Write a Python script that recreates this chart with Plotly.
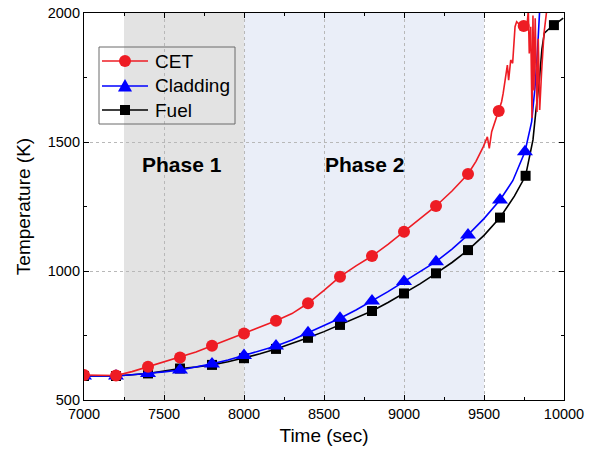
import plotly.graph_objects as go

# ---- data ----
cet_t = [7000, 7100, 7200, 7300, 7400, 7500, 7600, 7700, 7800, 7900, 8000, 8100, 8200, 8300,
         8400, 8500, 8600, 8700, 8800, 8900, 9000, 9100, 9200, 9300, 9400, 9450, 9496, 9521,
         9533, 9548, 9592, 9610, 9620, 9638, 9646, 9654, 9667, 9679, 9694, 9704, 9725, 9748,
         9767, 9777, 9783, 9792, 9800, 9806, 9812, 9820, 9831, 9839, 9848, 9860, 9875, 9892, 9900]
cet_T = [597, 596, 595, 610, 629, 646, 665, 686, 710, 734, 758, 780, 807, 835,
         875, 925, 978, 1020, 1058, 1103, 1152, 1200, 1252, 1310, 1376, 1425, 1482, 1520,
         1475, 1540, 1620, 1656, 1689, 1753, 1798, 1740, 1818, 1805, 1947, 1966, 1953, 1950,
         1940, 2010, 1843, 1947, 1593, 1990, 1700, 1980, 1616, 1900, 1624, 1772, 1921, 2010, 2060]
cet_mt = [7000, 7200, 7400, 7600, 7800, 8000, 8200, 8400, 8600, 8800, 9000, 9200, 9400, 9592, 9748]
cet_mT = [597, 595, 629, 665, 710, 758, 807, 875, 978, 1058, 1152, 1252, 1376, 1620, 1950]

clad_t = [7000, 7100, 7200, 7300, 7400, 7500, 7600, 7700, 7800, 7900, 8000, 8100, 8200, 8300,
          8400, 8500, 8600, 8700, 8800, 8900, 9000, 9100, 9200, 9300, 9400, 9500, 9600, 9680,
          9756, 9798, 9819, 9835, 9852]
clad_T = [593, 593, 593, 598, 603, 609, 616, 627, 640, 655, 672, 690, 709, 733,
          761, 788, 817, 849, 884, 920, 959, 996, 1036, 1085, 1140, 1203, 1275, 1350,
          1462, 1579, 1714, 1860, 2060]
clad_mt = [7000, 7200, 7400, 7600, 7800, 8000, 8200, 8400, 8600, 8800, 9000, 9200, 9400, 9600, 9756]
clad_mT = [593, 593, 603, 616, 640, 672, 709, 761, 817, 884, 959, 1036, 1140, 1275, 1462]

fuel_t = [7000, 7100, 7200, 7300, 7400, 7500, 7600, 7700, 7800, 7900, 8000, 8100, 8200, 8300,
          8400, 8500, 8600, 8700, 8800, 8900, 9000, 9100, 9200, 9300, 9400, 9500, 9600, 9690,
          9760, 9787, 9806, 9825, 9846, 9862, 9877, 9905, 9937, 9995]
fuel_T = [593, 593, 593, 598, 603, 612, 622, 628, 636, 648, 662, 679, 698, 718,
          741, 765, 791, 817, 845, 878, 913, 950, 991, 1033, 1081, 1138, 1207, 1290,
          1369, 1443, 1508, 1624, 1740, 1860, 1922, 1938, 1953, 1980]
fuel_mt = [7000, 7200, 7400, 7600, 7800, 8000, 8200, 8400, 8600, 8800, 9000, 9200, 9400, 9600, 9760, 9937]
fuel_mT = [593, 593, 603, 622, 636, 662, 698, 741, 791, 845, 913, 991, 1081, 1207, 1369, 1953]

series_names = ["CET", "Cladding", "Fuel"]
phase_labels = ["Phase 1", "Phase 2"]
phase1 = [7250, 8000]
phase2 = [8000, 9500]

RED = "#ee1c24"
BLUE = "#0000ff"
BLACK = "#000000"
FONT = "Liberation Sans, Arial, sans-serif"

W, H = 600, 459
ML, MR, MT, MB = 84, 36, 13, 59
PW, PH = W - ML - MR, H - MT - MB


def px2x(px):
    return (px - ML) / PW


def px2y(py):
    return 1 - (py - MT) / PH


fig = go.Figure()

specs = [
    (series_names[0], cet_t, cet_T, cet_mt, cet_mT, RED, "circle", 12),
    (series_names[1], clad_t, clad_T, clad_mt, clad_mT, BLUE, "triangle-up", 14),
    (series_names[2], fuel_t, fuel_T, fuel_mt, fuel_mT, BLACK, "square", 10),
]
for name, t, T, mt, mT, col, sym, sz in reversed(specs):
    fig.add_trace(go.Scatter(x=t, y=T, mode="lines", line=dict(color=col, width=1.6),
                             showlegend=False, hoverinfo="skip", name=name))
    fig.add_trace(go.Scatter(x=mt, y=mT, mode="markers", name=name,
                             marker=dict(color=col, symbol=sym, size=sz, line=dict(width=0)),
                             showlegend=False))

# phase shading
fig.add_shape(type="rect", xref="x", yref="paper", x0=phase1[0], x1=phase1[1], y0=0, y1=1,
              fillcolor="#e3e3e3", line=dict(width=0), layer="below")
fig.add_shape(type="rect", xref="x", yref="paper", x0=phase2[0], x1=phase2[1], y0=0, y1=1,
              fillcolor="#eaeef8", line=dict(width=0), layer="below")

fig.add_annotation(x=7612, y=1411, text="<b>" + phase_labels[0] + "</b>", showarrow=False,
                   font=dict(family=FONT, size=21, color="black"))
fig.add_annotation(x=8752, y=1411, text="<b>" + phase_labels[1] + "</b>", showarrow=False,
                   font=dict(family=FONT, size=21, color="black"))

# ---- manual legend (layout decoration) ----
fig.add_shape(type="rect", xref="paper", yref="paper",
              x0=px2x(99), x1=px2x(235), y0=px2y(124), y1=px2y(47),
              line=dict(color="#6a6a6a", width=1), fillcolor="rgba(0,0,0,0)", layer="above")
row_y = [61, 86, 110]
marker_paths = {
    "circle": None,
    "triangle-up": "M -7,-5.5 L 7,-5.5 L 0,7 Z",
    "square": "M -5,-5 L 5,-5 L 5,5 L -5,5 Z",
}
for (name, t, T, mt, mT, col, sym, sz), ry in zip(specs, row_y):
    yy = px2y(ry)
    fig.add_shape(type="line", xref="paper", yref="paper", x0=px2x(102), x1=px2x(148),
                  y0=yy, y1=yy, line=dict(color=col, width=1.6), layer="above")
    if sym == "circle":
        fig.add_shape(type="circle", xref="paper", yref="paper", xsizemode="pixel",
                      ysizemode="pixel", xanchor=px2x(125), yanchor=yy,
                      x0=-6, x1=6, y0=-6, y1=6, fillcolor=col, line=dict(width=0), layer="above")
    else:
        fig.add_shape(type="path", xref="paper", yref="paper", xsizemode="pixel",
                      ysizemode="pixel", xanchor=px2x(125), yanchor=yy,
                      path=marker_paths[sym], fillcolor=col, line=dict(width=0), layer="above")
    fig.add_annotation(xref="paper", yref="paper", x=px2x(153), y=yy, text=name,
                       showarrow=False, xanchor="left", yanchor="middle",
                       font=dict(family=FONT, size=19, color="black"))

axis_common = dict(
    showline=True, linecolor="black", linewidth=1.2, mirror="ticks",
    ticks="inside", ticklen=5, tickcolor="black",
    showgrid=True, gridcolor="#b8b8b8", griddash="dot", gridwidth=1,
    zeroline=False, automargin=False,
    tickfont=dict(family=FONT, size=14.5, color="black"),
)

fig.update_xaxes(range=[7000, 10000], dtick=500, tick0=7000, tickformat="d", **axis_common,
                 minor=dict(ticks="inside", ticklen=3, tickcolor="black", showgrid=False, dtick=250),
                 title=dict(text="Time (sec)", font=dict(family=FONT, size=19, color="black"), standoff=8))
fig.update_yaxes(range=[500, 2000], dtick=500, tick0=500, tickformat="d", **axis_common,
                 minor=dict(ticks="inside", ticklen=3, tickcolor="black", showgrid=False, dtick=250),
                 title=dict(text="Temperature (K)", font=dict(family=FONT, size=19, color="black"), standoff=12))

fig.update_layout(
    width=W, height=H,
    margin=dict(l=ML, r=MR, t=MT, b=MB),
    paper_bgcolor="white", plot_bgcolor="white",
    font=dict(family=FONT, color="black"),
    showlegend=False,
)

fig.write_html("out.html")
